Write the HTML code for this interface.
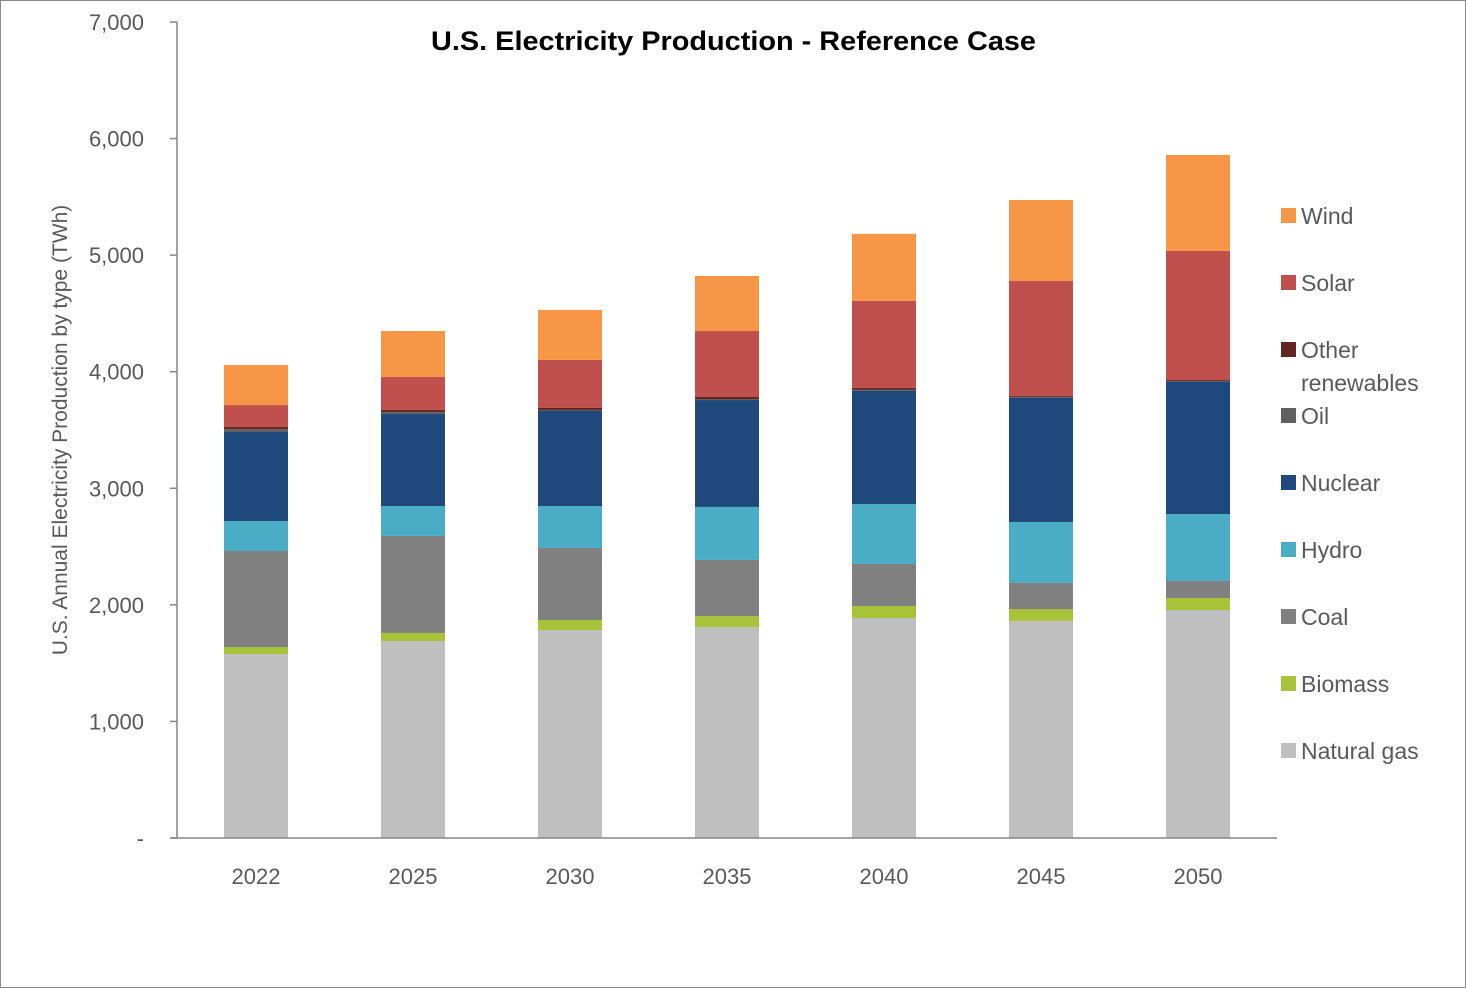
<!DOCTYPE html>
<html><head><meta charset="utf-8">
<style>
html,body{margin:0;padding:0;background:#fff;}
#wrap{position:relative;width:1466px;height:988px;box-sizing:border-box;border:1px solid #8c8c8c;}
svg{position:absolute;left:0;top:0;}
text{font-family:"Liberation Sans",sans-serif;}
</style></head>
<body>
<div id="wrap">
<svg id="chart" width="1466" height="988"></svg>
</div>
<script>
const categories = ["2022","2025","2030","2035","2040","2045","2050"];
const seriesNames = ["Natural gas","Biomass","Coal","Hydro","Nuclear","Oil","Other renewables","Solar","Wind"];
const naturalGas = [1578,1690,1784,1810,1887,1862,1956];
const biomass = [60,69,86,94,103,102,103];
const coal = [824,832,618,481,361,224,146];
const hydro = [257,257,360,455,514,523,574];
const nuclear = [764,789,815,917,970,1064,1133];
const oil = [26,18,9,9,9,9,9];
const otherRenewables = [17,17,17,17,17,8,8];
const solar = [188,283,412,566,747,986,1107];
const wind = [344,394,429,472,575,695,823];
const yTicks = [0,1000,2000,3000,4000,5000,6000,7000];
const yTickLabels = ["-","1,000","2,000","3,000","4,000","5,000","6,000","7,000"];

const seriesValues = [naturalGas,biomass,coal,hydro,nuclear,oil,otherRenewables,solar,wind];
const colors = ["#bfbfbf","#a8c23a","#808080","#4bacc6","#1f497d","#606060","#632523","#c0504d","#f79646"];
const NS = "http://www.w3.org/2000/svg";
const svg = document.getElementById("chart");
const y0 = 837, yTop = 21, yMax = 7000;
const yScale = v => y0 - v/yMax*(y0-yTop);
const xCenter = i => 255 + i*157;
const barW = 64;
function mk(tag, attrs, parent){const e=document.createElementNS(NS,tag);for(const k in attrs)e.setAttribute(k,attrs[k]);(parent||svg).appendChild(e);return e;}

categories.forEach((c,i)=>{
  let cum=0;
  seriesValues.forEach((arr,s)=>{
    const v=arr[i];
    const r=mk("rect",{x:xCenter(i)-barW/2,y:yScale(cum+v),width:barW,height:yScale(cum)-yScale(cum+v),fill:colors[s]});
    
    
    cum+=v;
  });
  const t=mk("text",{x:xCenter(i),y:883,"text-anchor":"middle","font-size":"22",fill:"#595959"});
  t.textContent=c;
  
  
});

const ya=mk("line",{x1:176,y1:yTop,x2:176,y2:y0,stroke:"#868686","stroke-width":"1.5"});


const xa=mk("line",{x1:170,y1:y0,x2:1276,y2:y0,stroke:"#868686","stroke-width":"1.5"});


yTicks.forEach((v,k)=>{
  const tk=mk("line",{x1:169,y1:yScale(v),x2:176,y2:yScale(v),stroke:"#868686","stroke-width":"1.5"});
  
  
  const t=mk("text",{x:143,y:yScale(v)+8,"text-anchor":"end","font-size":"22",fill:"#595959"});
  t.textContent=yTickLabels[k];
  
  
});

const title=mk("text",{x:430,y:49,"font-size":"27","font-weight":"bold",fill:"#000",textLength:"605",lengthAdjust:"spacingAndGlyphs"});
title.textContent="U.S. Electricity Production - Reference Case";


const yt=mk("text",{x:0,y:0,"text-anchor":"middle","font-size":"21",fill:"#595959",transform:"translate(66,429) rotate(-90)"});
yt.textContent="U.S. Annual Electricity Production by type (TWh)";



const legendRows=[["Wind",8,215],["Solar",7,282],["Other",6,349],["Oil",5,415],["Nuclear",4,482],["Hydro",3,549],["Coal",2,616],["Biomass",1,683],["Natural gas",0,750]];
legendRows.forEach(r=>{
  const sq=mk("rect",{x:1280,y:r[2]-8,width:15,height:15,fill:colors[r[1]]});
  
  
  const t=mk("text",{x:1300,y:r[2]+8,"font-size":"23",fill:"#595959"});
  t.textContent=r[0];
  
  
});
const t2=mk("text",{x:1300,y:390,"font-size":"23",fill:"#595959"});
t2.textContent="renewables";


</script>
</body></html>
